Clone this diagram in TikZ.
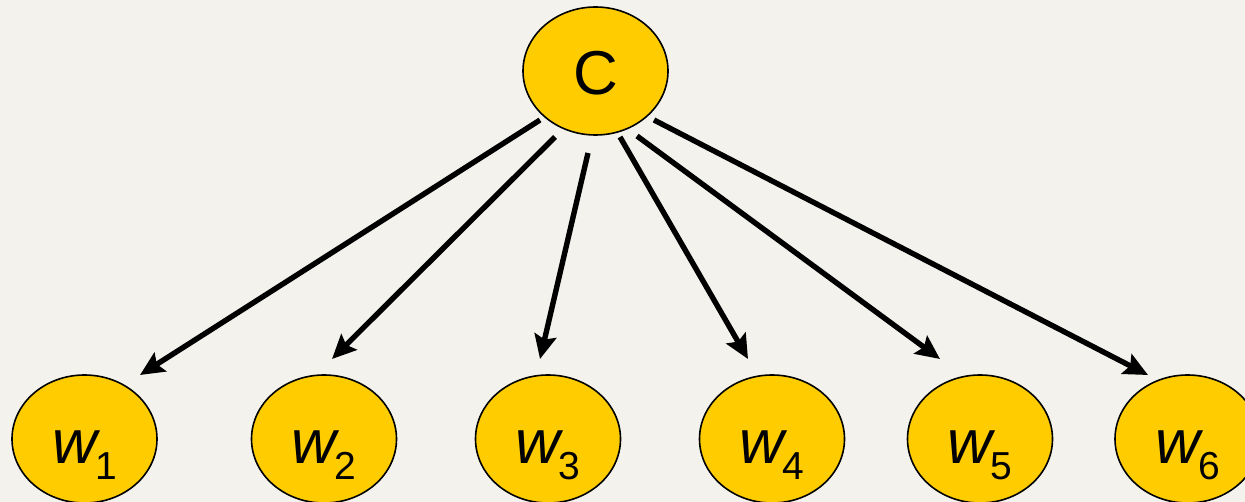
\documentclass[tikz,border=0pt]{standalone}
\usepackage{fontspec}
\setmainfont{Liberation Sans}
\usetikzlibrary{arrows.meta,calc,shapes.geometric}

\definecolor{paper}{RGB}{243,242,236}
\definecolor{gold}{RGB}{255,204,0}

% italic w with a lowered index
\newcommand{\wsub}[1]{\textit{w}\kern-5pt\raisebox{-16pt}{\fontsize{39}{39}\selectfont #1}}

\begin{document}
\begin{tikzpicture}[x=1pt,y=-1pt,
  bubble/.style={ellipse,draw=black,line width=1.6pt,fill=gold,
    minimum width=145pt,minimum height=128pt,inner sep=0pt,
    text height=48pt,text depth=0pt,
    font=\fontsize{62}{62}\selectfont},
  arr/.style={line width=5.4pt,-{Stealth[length=24pt,width=22pt,inset=4pt]}}]
% background and page size
\fill[paper] (0,0) rectangle (1245,502);
\useasboundingbox (0,0) rectangle (1245,502);

% nodes
\node[bubble] (c)  at (595.5,71) {C};
\node[bubble] (w1) at (84.5,439)  {\wsub{1}};
\node[bubble] (w2) at (324,439)   {\wsub{2}};
\node[bubble] (w3) at (548,439)   {\wsub{3}};
\node[bubble] (w4) at (772,439)   {\wsub{4}};
\node[bubble] (w5) at (980,439)   {\wsub{5}};
\node[bubble] (w6) at (1187.5,439){\wsub{6}};

% arrows from C down to each w
\draw[arr] ($(c.center)+(-55.5,49)$) -- ($(w1.center)+(55.5,-64)$);
\draw[arr] ($(c.center)+(-40.5,66)$) -- ($(w2.center)+(8,-80)$);
\draw[arr] ($(c.center)+(-7.5,82)$)  -- ($(w3.center)+(-8,-80)$);
\draw[arr] ($(c.center)+(24.5,66)$)  -- ($(w4.center)+(-24,-80)$);
\draw[arr] ($(c.center)+(41.5,65)$)  -- ($(w5.center)+(-40,-80)$);
\draw[arr] ($(c.center)+(58.5,49)$)  -- ($(w6.center)+(-39.5,-64)$);
\end{tikzpicture}
\end{document}
